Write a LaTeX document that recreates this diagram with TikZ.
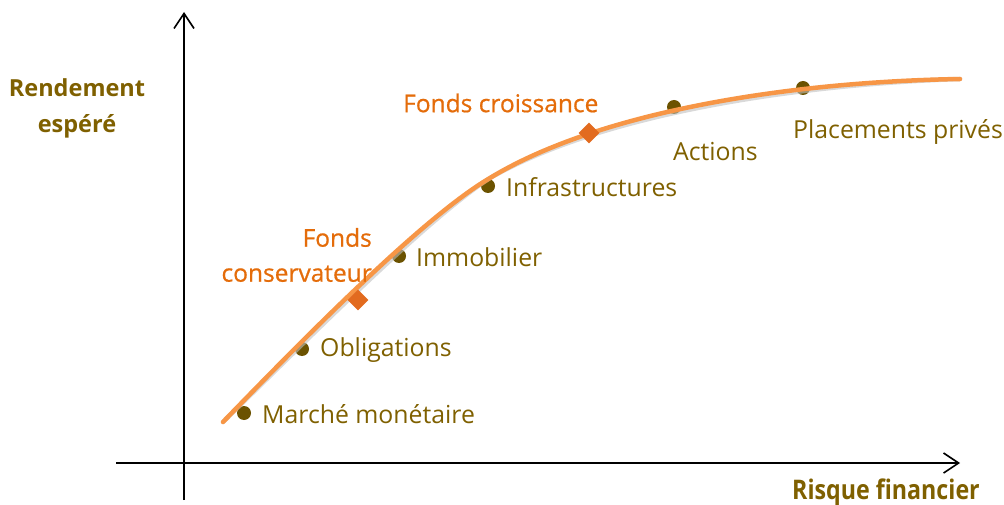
\documentclass[tikz,border=0pt]{standalone}
\usepackage{fontspec}
\setmainfont{Open Sans}
\newfontfamily\semib[FakeBold=0.7]{Open Sans}
\usetikzlibrary{arrows.meta,shapes.geometric}
\definecolor{lbl}{HTML}{7F6000}
\definecolor{dotc}{HTML}{6B5200}
\definecolor{orgtxt}{HTML}{E46C0A}
\definecolor{curvec}{HTML}{F79646}
\definecolor{diac}{HTML}{E26B1F}
\tikzset{
  axis/.style={line width=1.8pt, -{Straight Barb[length=15pt,width=20pt,line width=1.6pt]}},
  dotn/.style={circle, fill=dotc, minimum size=14pt, inner sep=0pt},
  dia/.style={diamond, fill=diac, minimum size=21pt, inner sep=0pt},
  lab/.style={text=lbl, font=\fontsize{24.8}{28}\selectfont, inner sep=0pt},
  olab/.style={text=orgtxt, font=\semib\fontsize{24.5}{35}\selectfont, inner sep=0pt},
  blab/.style={text=lbl, font=\bfseries\fontsize{23.5}{36}\selectfont, inner sep=0pt},
  crv/.style={line width=4.5pt, line cap=round},
}
\begin{document}
\begin{tikzpicture}[x=1pt,y=-1pt]
\useasboundingbox (0,0) rectangle (1004,505);
% axes
\coordinate (yb) at (184,500);
\coordinate (yt) at (184,12);
\coordinate (xl) at (116,463);
\coordinate (xr) at (960,463);
\draw[axis] (yb) -- (yt);
\draw[axis] (xl) -- (xr);
% dots (under the curve)
\node[dotn] (mm) at (244,413) {};
\node[dotn] (ob) at (302,349) {};
\node[dotn] (im) at (399,256) {};
\node[dotn] (inf) at (488,186) {};
\node[dotn] (ac) at (674,107) {};
\node[dotn] (pp) at (803,88) {};
% curve shadow and curve
\coordinate (c0) at (223,422);
\coordinate (c1) at (490,178);
\coordinate (c2) at (960,79);
\draw[crv, black!25, opacity=0.6, shift={(2pt,-3pt)}] (c0) .. controls (310,332) and (425,216) .. (c1) .. controls (595,114) and (780,82) .. (c2);
\draw[crv, curvec] (c0) .. controls (310,332) and (425,216) .. (c1) .. controls (595,114) and (780,82) .. (c2);
% diamonds
\node[dia] (fcv) at (358,300) {};
\node[dia] (fcr) at (589,133) {};
% labels
\node[lab, anchor=west] (lmm) at (262,414) {Marché monétaire};
\node[lab, anchor=west] (lob) at (320,350) {Obligations};
\node[lab, anchor=west] (lim) at (416,257) {Immobilier};
\node[lab, anchor=west] (linf) at (506,187) {Infrastructures};
\node[lab, anchor=west] (lac) at (673,152) {Actions};
\node[lab, anchor=west] (lpp) at (793,132) {Placements privés};
\node[olab, anchor=west] (lfcr) at (403,103) {Fonds croissance};
\node[olab, align=right, anchor=east] (lfcv) at (372,255) {Fonds\\conservateur};
\node[blab, align=center] (ly) at (77,108) {Rendement\\espéré};
\node[blab, anchor=east] (lx) at (980,492) {\scalebox{0.86}[1]{\fontsize{27}{30}\selectfont Risque financier}};
\end{tikzpicture}
\end{document}
